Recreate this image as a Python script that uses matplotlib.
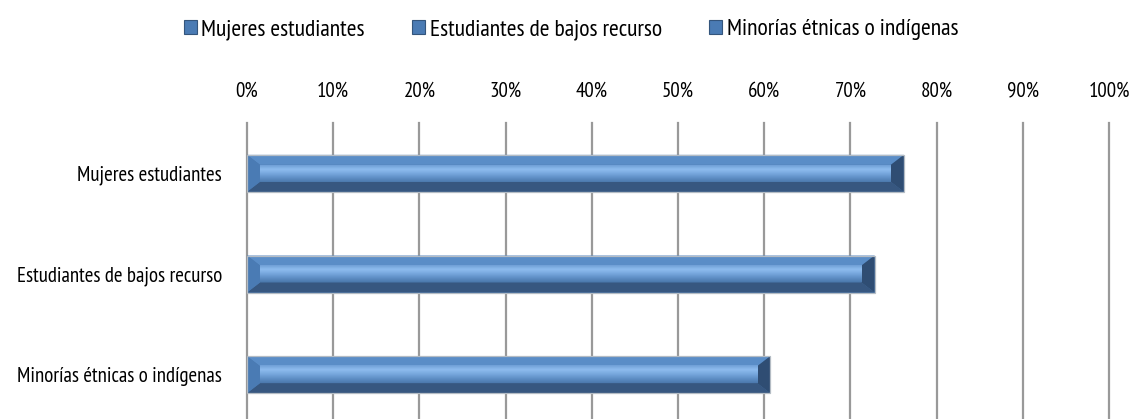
import matplotlib
matplotlib.use("Agg")
import matplotlib.pyplot as plt
import numpy as np
from matplotlib.patches import Polygon, Patch
from matplotlib.colors import LinearSegmentedColormap

plt.rcParams['font.family'] = ['PT Sans Narrow', 'DejaVu Sans']

categories = ["Mujeres estudiantes", "Estudiantes de bajos recurso", "Minorías étnicas o indígenas"]
values = [76.2, 72.8, 60.7]
xticks = [0, 10, 20, 30, 40, 50, 60, 70, 80, 90, 100]
xticklabels = ["0%", "10%", "20%", "30%", "40%", "50%", "60%", "70%", "80%", "90%", "100%"]

W, H, DPI = 1130, 419, 100
fig = plt.figure(figsize=(W / DPI, H / DPI), dpi=DPI)
ax = fig.add_axes([247 / W, -6 / H, (1109 - 247) / W, (425 - 123) / H])

xmin, xmax = 0, 100
ymin, ymax = 2.5, -0.5
ax.set_xlim(xmin, xmax)
ax.set_ylim(ymin, ymax)

ax_w_px = (1109 - 247)
ax_h_px = (425 - 123)
px_x = (xmax - xmin) / ax_w_px
px_y = abs(ymax - ymin) / ax_h_px

bar_h = 37 * px_y
bx = 13 * px_x
by = 10 * px_y

face_cmap = LinearSegmentedColormap.from_list(
    "face", [(0.0, "#6f9fd6"), (0.25, "#8ebcee"), (0.5, "#77a7dd"), (0.75, "#5f8fc6"), (1.0, "#4c79ad")])

y_pos = np.arange(len(categories))

for yc, v in zip(y_pos, values):
    top = yc - bar_h / 2
    bot = yc + bar_h / 2
    ax.barh(yc, v, height=bar_h, color="#4a78ad", edgecolor="none", zorder=3)
    ax.add_patch(Polygon([(0, top), (v, top), (v - bx, top + by), (bx, top + by)],
                         closed=True, facecolor="#5a8dc7", edgecolor="none", zorder=4))
    ax.add_patch(Polygon([(0, bot), (v, bot), (v - bx, bot - by), (bx, bot - by)],
                         closed=True, facecolor="#375780", edgecolor="none", zorder=4))
    ax.add_patch(Polygon([(0, top), (0, bot), (bx, bot - by), (bx, top + by)],
                         closed=True, facecolor="#4a7bb4", edgecolor="none", zorder=4))
    ax.add_patch(Polygon([(v, top), (v, bot), (v - bx, bot - by), (v - bx, top + by)],
                         closed=True, facecolor="#2f4d73", edgecolor="none", zorder=4))
    grad = np.linspace(0, 1, 64).reshape(-1, 1)
    ax.imshow(grad, cmap=face_cmap, aspect="auto", origin="upper",
              extent=(bx, v - bx, bot - by, top + by), zorder=5, interpolation="bilinear")
    ax.add_patch(Polygon([(0, top), (v, top), (v, bot), (0, bot)], closed=True,
                         facecolor="none", edgecolor="#b4bcc4", linewidth=0.9, zorder=6))

ax.set_xlim(xmin, xmax)
ax.set_ylim(ymin, ymax)

for t in xticks:
    ax.axvline(t, color="#999999", linewidth=1.6, zorder=1, clip_on=False)

for s in ax.spines.values():
    s.set_visible(False)

ax.xaxis.tick_top()
ax.set_xticks(xticks)
ax.set_xticklabels(xticklabels, fontsize=15)
ax.set_yticks(y_pos)
ax.set_yticklabels(categories, fontsize=15)
ax.tick_params(axis="x", length=0, pad=16)
ax.tick_params(axis="y", length=0, pad=18)

handles = [Patch(facecolor="#4a7bb4", edgecolor="#34557c", linewidth=0.8) for _ in categories]
fig.legend(handles, categories, loc="center", bbox_to_anchor=(571 / W, 1 - 30 / H),
           ncol=3, frameon=False, fontsize=17, handlelength=0.55, handleheight=0.55,
           handletextpad=0.2, columnspacing=2.0)

fig.savefig("out.png", dpi=DPI)
